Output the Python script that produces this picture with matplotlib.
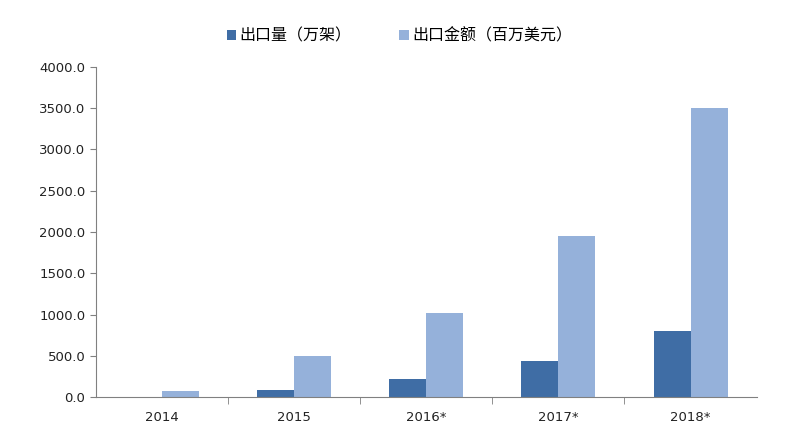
import numpy as np
import matplotlib.pyplot as plt

plt.rcParams['font.family'] = ['Noto Sans CJK SC', 'DejaVu Sans']

years = ['2014', '2015', '2016*', '2017*', '2018*']
volume = [0, 90, 215, 435, 800]          # 出口量（万架）
amount = [70, 500, 1020, 1950, 3500]     # 出口金额（百万美元）

fig = plt.figure(figsize=(7.99, 4.36), dpi=100)
ax = fig.add_axes([0.120, 0.0894, 0.827, 0.757])

x = np.arange(len(years))
w = 0.28
ax.bar(x - w / 2, volume, w, color='#3F6DA5', label='出口量（万架）')
ax.bar(x + w / 2, amount, w, color='#95B1DA', label='出口金额（百万美元）')

ax.set_xlim(-0.5, len(years) - 0.5)
ax.set_ylim(0, 4000)
ax.set_yticks(np.arange(0, 4001, 500))
ax.set_yticklabels(['%.1f' % v for v in np.arange(0, 4001, 500)], fontfamily='DejaVu Sans')
ax.set_xticks(x)
ax.set_xticklabels(years, fontfamily='DejaVu Sans')
ax.set_xticks(np.arange(0.5, len(years) - 1, 1), minor=True)
ax.tick_params(axis='x', which='major', length=0, pad=10)
ax.tick_params(axis='x', which='minor', length=5, color='#808080')
ax.tick_params(axis='y', length=4, color='#808080')
ax.tick_params(labelsize=9.5, labelcolor='#222222')

for s in ['top', 'right']:
    ax.spines[s].set_visible(False)
for s in ['left', 'bottom']:
    ax.spines[s].set_color('#808080')

fig.legend(loc='upper center', bbox_to_anchor=(0.5, 0.97), ncol=2, frameon=False,
           fontsize=11.5, handlelength=0.6, handleheight=0.6, handletextpad=0.2,
           columnspacing=3)

fig.savefig('out.png', dpi=100)
